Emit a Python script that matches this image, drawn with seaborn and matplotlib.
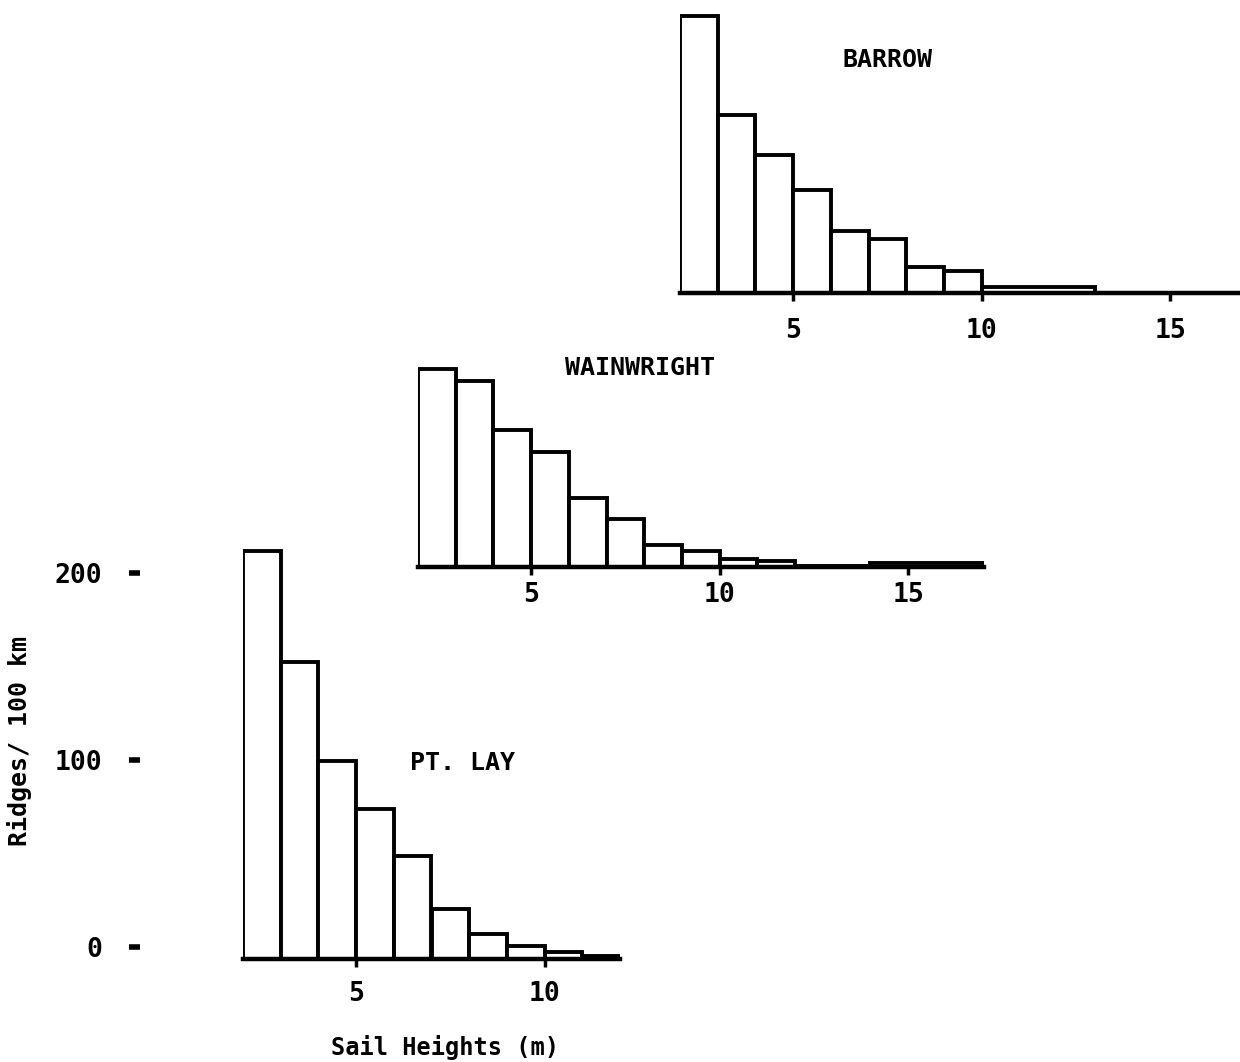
import matplotlib
matplotlib.use('Agg')
import numpy as np
import pandas as pd
import matplotlib.pyplot as plt
import seaborn as sns

# ridges per 100 km by sail height bin (m)
barrow_edges = [2, 3, 4, 5, 6, 7, 8, 9, 10, 13, 17]
barrow_counts = [148, 95, 74, 55, 33, 29, 14, 12, 3, 0]

wain_edges = [2, 3, 4, 5, 6, 7, 8, 9, 10, 11, 12, 14, 17]
wain_counts = [106, 99.5, 73, 61.5, 37, 25.5, 12, 8.5, 4.5, 3, 0.5, 2]

ptlay_edges = [2, 3, 4, 5, 6, 7, 8, 9, 10, 11, 12]
ptlay_counts = [218, 159, 106, 80, 55, 27, 13.5, 7, 3.5, 1.5]

x_ticks = [5, 10, 15]
y_ticks = [0, 100, 200]

W, H = 1240, 1062
PX_M = 37.7   # pixels per metre
PX_U = 1.87   # pixels per ridge/100 km

sns.set_style('white')
plt.rcParams['font.family'] = ['DejaVu Sans Mono', 'DejaVu Sans']
plt.rcParams['text.color'] = 'black'
plt.rcParams['xtick.color'] = 'black'
plt.rcParams['ytick.color'] = 'black'
plt.rcParams['axes.edgecolor'] = 'black'

fig = plt.figure(figsize=(W / 100, H / 100), dpi=100)


def panel(edges, counts, left, base, xmax, ymax, name, name_xy, lab_pad):
	w = (xmax - 2) * PX_M
	h = ymax * PX_U
	ax = fig.add_axes([left / W, (H - base) / H, w / W, h / H])
	mids = [(a + b) / 2 for a, b in zip(edges[:-1], edges[1:])]
	df = pd.DataFrame({'x': mids, 'w': counts})
	sns.histplot(data=df, x='x', weights='w', bins=edges, ax=ax, color='white',
		edgecolor='black', linewidth=2.8, alpha=1)
	ax.set_xlim(2, xmax)
	ax.set_ylim(0, ymax)
	ax.set_xlabel('')
	ax.set_ylabel('')
	ax.set_yticks([])
	ax.set_xticks([t for t in x_ticks if t < xmax])
	ax.tick_params(axis='x', bottom=True, direction='out', length=6, width=2.5,
		pad=lab_pad, labelsize=19)
	for lab in ax.get_xticklabels():
		lab.set_fontweight('bold')
	for s in ['top', 'right', 'left']:
		ax.spines[s].set_visible(False)
	ax.spines['bottom'].set_linewidth(3.2)
	ax.patch.set_alpha(0)
	fig.text(name_xy[0] / W, 1 - name_xy[1] / H, name, fontsize=18,
		fontweight='bold', ha='center', va='center')
	return ax


panel(barrow_edges, barrow_counts, 680, 293, 2 + 560 / PX_M, 152, 'BARROW', (887, 60), 12)
panel(wain_edges, wain_counts, 418, 567, 17.0, 112, 'WAINWRIGHT', (640, 368), 5)
panel(ptlay_edges, ptlay_counts, 243, 959, 12.0, 222, 'PT. LAY', (462, 763), 10)

# y scale drawn once at the far left
ax_y = fig.add_axes([140 / W, (H - 947) / H, 1 / W, 220 * PX_U / H])
ax_y.set_ylim(0, 220)
ax_y.set_yticks(y_ticks)
ax_y.set_xticks([])
ax_y.tick_params(axis='y', left=True, direction='out', length=8, width=4,
	pad=19, labelsize=19)
for lab in ax_y.get_yticklabels():
	lab.set_fontweight('bold')
for s in ax_y.spines.values():
	s.set_visible(False)
ax_y.patch.set_alpha(0)

fig.text(20 / W, 1 - 741 / H, 'Ridges/ 100 km', rotation=90, fontsize=18,
	fontweight='bold', ha='center', va='center')
fig.text(445 / W, 1 - 1048 / H, 'Sail Heights (m)', fontsize=17,
	fontweight='bold', ha='center', va='center')

fig.savefig('out.png', dpi=100)
